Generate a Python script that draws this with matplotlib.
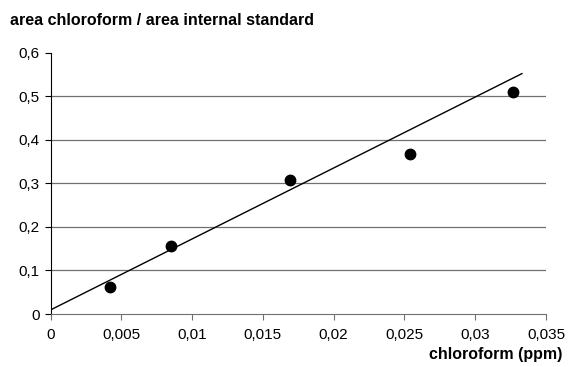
import matplotlib
matplotlib.use("Agg")
import matplotlib.pyplot as plt

plt.rcParams['font.family'] = ['Liberation Sans', 'DejaVu Sans']

# measured points
conc_ppm = [0.00421, 0.0085, 0.01694, 0.02542, 0.03266]
area_ratio = [0.061, 0.157, 0.307, 0.367, 0.510]

# trend line as drawn in the original (end points)
trend_x = [0.0001, 0.0333]
trend_y = [0.011, 0.552]

x_ticks = [0, 0.005, 0.01, 0.015, 0.02, 0.025, 0.03, 0.035]
x_labels = ['0', '0,005', '0,01', '0,015', '0,02', '0,025', '0,03', '0,035']
y_ticks = [0, 0.1, 0.2, 0.3, 0.4, 0.5, 0.6]
y_labels = ['0', '0,1', '0,2', '0,3', '0,4', '0,5', '0,6']

fig = plt.figure(figsize=(5.69, 3.67), dpi=100)
ax = fig.add_axes([0.0888, 0.1444, 0.8708, 0.712])

# grid lines
for yv in y_ticks[1:-1]:
    ax.axhline(yv, color='#707070', lw=0.9, zorder=1)

ax.plot(trend_x, trend_y, color='black', lw=1.0, zorder=2)
ax.plot(conc_ppm, area_ratio, 'o', color='black', ms=7.5, zorder=3)

ax.set_xlim(0, 0.035)
ax.set_ylim(0, 0.6)
ax.set_xticks(x_ticks)
ax.set_xticklabels(x_labels)
ax.set_yticks(y_ticks)
ax.set_yticklabels(y_labels)

ax.spines['top'].set_visible(False)
ax.spines['right'].set_visible(False)
ax.spines['bottom'].set_color('#707070')
ax.spines['left'].set_color('black')
ax.tick_params(axis='x', direction='out', length=4, color='#707070',
               labelsize=11, pad=6)
ax.tick_params(axis='y', direction='out', length=4, color='black',
               labelsize=11, pad=4)

fig.text(0.018, 0.945, 'area chloroform / area internal standard',
         fontsize=11.5, fontweight='bold', ha='left', va='center')
fig.text(0.988, 0.033, 'chloroform (ppm)', fontsize=11.5, fontweight='bold',
         ha='right', va='center')

fig.savefig('out.png', dpi=100)
